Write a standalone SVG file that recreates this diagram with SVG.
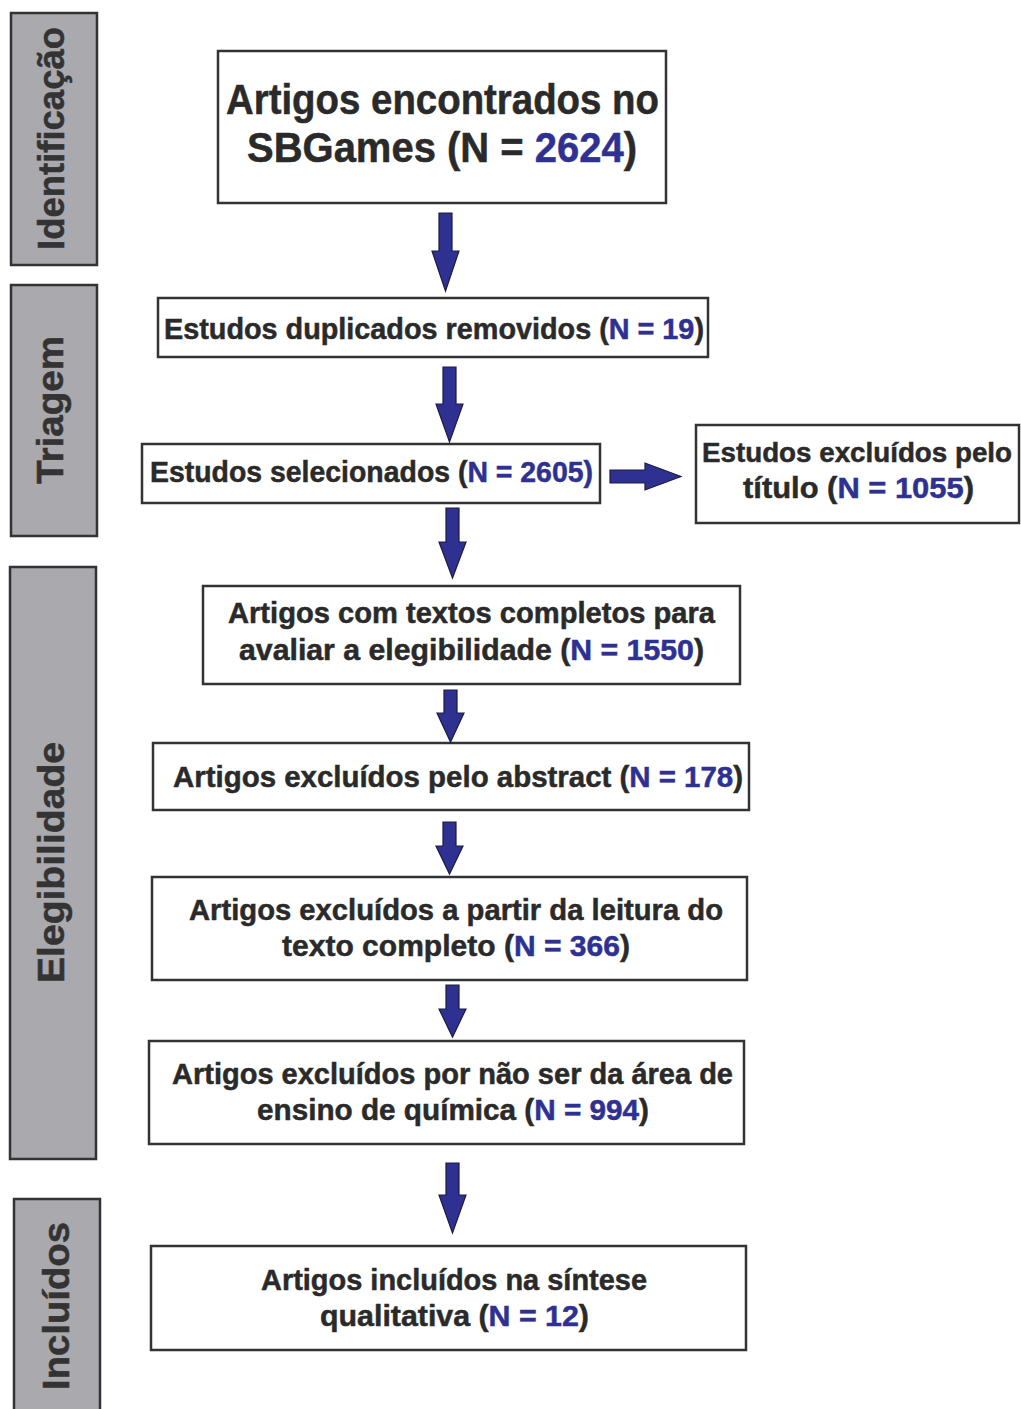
<svg xmlns="http://www.w3.org/2000/svg" width="1021" height="1409" viewBox="0 0 1021 1409">
<style>
.bg{fill:#ffffff}
.side{fill:#a9a9ae;stroke:#333333;stroke-width:2.5}
.box{fill:#ffffff;stroke:#333333;stroke-width:2.5}
.t{font-family:"Liberation Sans",Arial,sans-serif;font-weight:bold;fill:#2a2a2a;stroke:#2a2a2a;stroke-width:0.5;text-anchor:middle}
.b{font-size:30px}
.s{font-size:28px}
.big{font-size:42px}
.sl{font-size:37px;fill:#333333;stroke:#333333}
.n{fill:#2e3192;stroke:#2e3192}
.arr{fill:#2e3192;stroke:#1c1c3c;stroke-width:1.2;stroke-linejoin:miter}
</style>
<rect class="bg" x="0" y="0" width="1021" height="1409"/>

<g id="side-identificacao">
<rect class="side" x="11" y="13" width="86" height="252"/>
<text class="t sl" transform="translate(64,138.5) rotate(-90)" textLength="223" lengthAdjust="spacingAndGlyphs">Identificação</text>
</g>
<g id="side-triagem">
<rect class="side" x="11" y="285" width="86" height="251"/>
<text class="t sl" transform="translate(63,410) rotate(-90)" textLength="148" lengthAdjust="spacingAndGlyphs">Triagem</text>
</g>
<g id="side-elegibilidade">
<rect class="side" x="10" y="567" width="86" height="592"/>
<text class="t sl" transform="translate(64,862.5) rotate(-90)" textLength="241" lengthAdjust="spacingAndGlyphs">Elegibilidade</text>
</g>
<g id="side-incluidos">
<rect class="side" x="14" y="1199" width="86" height="220"/>
<text class="t sl" transform="translate(69,1306) rotate(-90)" textLength="168" lengthAdjust="spacingAndGlyphs">Incluídos</text>
</g>

<g id="node-encontrados">
<rect class="box" x="218" y="51" width="448" height="152"/>
<text class="t big" x="442.5" y="114" textLength="433" lengthAdjust="spacingAndGlyphs">Artigos encontrados no</text>
<text class="t big" x="442" y="162" textLength="390" lengthAdjust="spacingAndGlyphs">SBGames (N = <tspan class="n">2624</tspan>)</text>
</g>
<g id="node-duplicados">
<rect class="box" x="158" y="298" width="550" height="59"/>
<text class="t b" x="434" y="339" textLength="540" lengthAdjust="spacingAndGlyphs">Estudos duplicados removidos (<tspan class="n">N = 19</tspan>)</text>
</g>
<g id="node-selecionados">
<rect class="box" x="142" y="444" width="458" height="59"/>
<text class="t b" x="371.5" y="482" textLength="443" lengthAdjust="spacingAndGlyphs">Estudos selecionados (<tspan class="n">N = 2605)</tspan></text>
</g>
<g id="node-excluidos-titulo">
<rect class="box" x="696" y="425" width="323" height="98"/>
<text class="t s" x="857" y="462" textLength="310" lengthAdjust="spacingAndGlyphs">Estudos excluídos pelo</text>
<text class="t b" x="858.5" y="498" textLength="231" lengthAdjust="spacingAndGlyphs">título (<tspan class="n">N = 1055</tspan>)</text>
</g>
<g id="node-textos-completos">
<rect class="box" x="203" y="586" width="537" height="98"/>
<text class="t b" x="471.5" y="623" textLength="487" lengthAdjust="spacingAndGlyphs">Artigos com textos completos para</text>
<text class="t b" x="471.5" y="660" textLength="465" lengthAdjust="spacingAndGlyphs">avaliar a elegibilidade (<tspan class="n">N = 1550</tspan>)</text>
</g>
<g id="node-abstract">
<rect class="box" x="153" y="743" width="596" height="67"/>
<text class="t b" x="458" y="787" textLength="570" lengthAdjust="spacingAndGlyphs">Artigos excluídos pelo abstract (<tspan class="n">N = 178</tspan>)</text>
</g>
<g id="node-leitura">
<rect class="box" x="152" y="877" width="595" height="103"/>
<text class="t b" x="456" y="920" textLength="534" lengthAdjust="spacingAndGlyphs">Artigos excluídos a partir da leitura do</text>
<text class="t b" x="456" y="956" textLength="348" lengthAdjust="spacingAndGlyphs">texto completo (<tspan class="n">N = 366</tspan>)</text>
</g>
<g id="node-area">
<rect class="box" x="149" y="1041" width="595" height="103"/>
<text class="t b" x="452.5" y="1084" textLength="561" lengthAdjust="spacingAndGlyphs">Artigos excluídos por não ser da área de</text>
<text class="t b" x="453" y="1120" textLength="392" lengthAdjust="spacingAndGlyphs">ensino de química (<tspan class="n">N = 994</tspan>)</text>
</g>
<g id="node-incluidos">
<rect class="box" x="151" y="1246" width="595" height="104"/>
<text class="t b" x="454" y="1290" textLength="386" lengthAdjust="spacingAndGlyphs">Artigos incluídos na síntese</text>
<text class="t b" x="454.5" y="1326" textLength="269" lengthAdjust="spacingAndGlyphs">qualitativa (<tspan class="n">N = 12</tspan>)</text>
</g>

<g id="connectors">
<polygon class="arr" points="439,213 452,213 452,251 459,251 445.5,291 432,251 439,251"/>
<polygon class="arr" points="443,367 456,367 456,404 463,404 449.5,442 436,404 443,404"/>
<polygon class="arr" points="446,508 459,508 459,542 466,542 452.5,578 439,542 446,542"/>
<polygon class="arr" points="444,690 457,690 457,713 464,713 450.5,742 437,713 444,713"/>
<polygon class="arr" points="443,822 456,822 456,846 463,846 449.5,874 436,846 443,846"/>
<polygon class="arr" points="446,985 459,985 459,1009 466,1009 452.5,1037 439,1009 446,1009"/>
<polygon class="arr" points="446,1163 459,1163 459,1195 466,1195 452.5,1233 439,1195 446,1195"/>
<polygon class="arr" points="610,470 645,470 645,463 681,476.5 645,490 645,483 610,483"/>
</g>
</svg>
